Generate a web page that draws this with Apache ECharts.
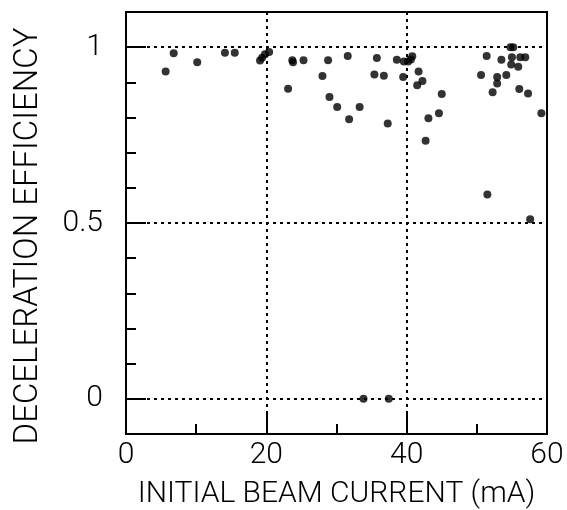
<!DOCTYPE html>
<html>
<head>
<meta charset="utf-8">
<script src="https://cdn.jsdelivr.net/npm/echarts@6/dist/echarts.min.js"></script>
<style>html,body{margin:0;padding:0;background:#fff;}#c{width:567px;height:510px;}</style>
</head>
<body>
<div id="c"></div>
<script>
const beamCurrent = [5.65, 6.8, 10.15, 14.1, 15.5, 19.1, 19.4, 19.8, 20.4, 23.1, 23.7, 23.8, 25.3, 28.0, 28.8, 29.0, 30.1, 31.6, 31.8, 33.3, 33.85, 35.4, 35.75, 36.75, 37.3, 37.45, 38.6, 39.5, 39.6, 40.2, 40.6, 40.8, 41.5, 41.7, 42.25, 42.7, 43.1, 44.6, 45.0, 50.6, 51.4, 51.5, 52.25, 52.9, 52.9, 53.5, 54.2, 54.8, 55.2, 55.0, 54.9, 55.9, 56.2, 56.9, 56.05, 57.3, 57.6, 59.2];
const efficiency  = [0.931, 0.983, 0.957, 0.984, 0.984, 0.962, 0.970, 0.980, 0.986, 0.882, 0.963, 0.957, 0.963, 0.918, 0.963, 0.858, 0.830, 0.975, 0.795, 0.830, 0.0, 0.922, 0.969, 0.919, 0.783, 0.0, 0.964, 0.915, 0.959, 0.959, 0.965, 0.974, 0.892, 0.931, 0.904, 0.734, 0.798, 0.812, 0.867, 0.921, 0.975, 0.581, 0.872, 0.915, 0.897, 0.964, 0.921, 1.0, 1.0, 0.971, 0.951, 0.944, 0.971, 0.971, 0.881, 0.868, 0.511, 0.812];
const xTickLabels = [0, 20, 40, 60];
const yTickLabels = [0, 0.5, 1];

const points = beamCurrent.map((x, i) => [x, efficiency[i]]);
const FONT = 'Roboto';
const W = 300;

const chart = echarts.init(document.getElementById('c'), null, {renderer: 'canvas'});
chart.setOption({
  animation: false,
  backgroundColor: '#fff',
  grid: {left: 126, right: 20, top: 12, bottom: 76, outerBoundsMode: 'none', containLabel: false,
    show: true, borderColor: '#000', borderWidth: 2, backgroundColor: 'transparent'},
  xAxis: {
    type: 'value', min: 0, max: 60, interval: 20,
    name: 'INITIAL BEAM CURRENT (mA)', nameLocation: 'middle', nameGap: 45,
    nameTextStyle: {fontFamily: FONT, fontWeight: W, fontSize: 30, color: '#000'},
    axisLine: {show: true, onZero: false, lineStyle: {color: '#000', width: 2}},
    axisTick: {show: true, inside: true, length: 20, lineStyle: {color: '#000', width: 2}},
    minorTick: {show: true, splitNumber: 2, length: 10, lineStyle: {color: '#000', width: 2}},
    axisLabel: {fontFamily: FONT, fontWeight: W, fontSize: 30, color: '#000', margin: 6,
      formatter: v => xTickLabels.includes(v) ? String(v) : ''},
    splitLine: {show: true, lineStyle: {color: '#000', width: 2, type: [3, 4]}},
    minorSplitLine: {show: false}
  },
  yAxis: [{
    type: 'value', min: -0.1, max: 1.1,
    name: 'DECELERATION EFFICIENCY', nameLocation: 'middle', nameGap: 81, nameRotate: 90,
    nameTextStyle: {fontFamily: FONT, fontWeight: W, fontSize: 33, color: '#000', padding: [0, 26, 0, 0]},
    axisLine: {show: true, onZero: false, lineStyle: {color: '#000', width: 2}},
    axisTick: {show: true, inside: true, length: 20, customValues: yTickLabels, lineStyle: {color: '#000', width: 2}},
    axisLabel: {fontFamily: FONT, fontWeight: W, fontSize: 30, color: '#000', margin: 23, customValues: yTickLabels,
      formatter: v => String(v)},
    splitLine: {show: true, lineStyle: {color: '#000', width: 2, type: [3, 4]}}
  }, {
    type: 'value', min: -0.1, max: 1.1, interval: 0.1, position: 'left',
    axisLine: {show: false},
    axisTick: {show: true, inside: true, length: 10, lineStyle: {color: '#000', width: 2}},
    axisLabel: {show: false},
    splitLine: {show: false}
  }],
  series: [{
    type: 'scatter', data: points, symbol: 'circle', symbolSize: 8,
    itemStyle: {color: '#000'}, z: 5
  }]
});
</script>
</body>
</html>
